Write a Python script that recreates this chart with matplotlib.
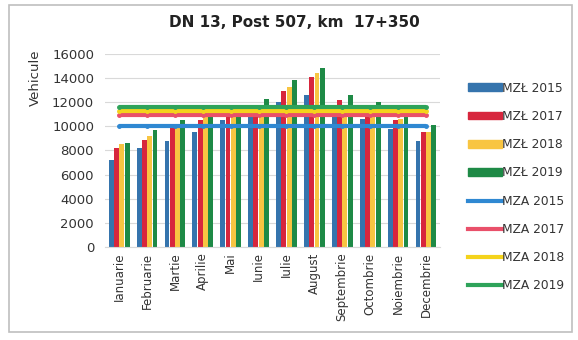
import numpy as np
import matplotlib
matplotlib.use('Agg')
import matplotlib.pyplot as plt
from matplotlib.patches import Rectangle
from matplotlib.lines import Line2D
from matplotlib.patches import Patch

luni = ['Ianuarie', 'Februarie', 'Martie', 'Aprilie', 'Mai', 'Iunie', 'Iulie',
        'August', 'Septembrie', 'Octombrie', 'Noiembrie', 'Decembrie']

# trafic lunar (MZL) pe ani
mzl_2015 = [7200, 8200, 8800, 9500, 10500, 10750, 12000, 12600, 11500, 10600, 9800, 8800]
mzl_2017 = [8200, 8900, 10000, 10500, 10950, 11500, 12900, 14100, 12200, 10950, 10500, 9500]
mzl_2018 = [8500, 9200, 10000, 10800, 11400, 11700, 13300, 14450, 11700, 11000, 10600, 9500]
mzl_2019 = [8600, 9700, 10500, 10750, 11650, 12250, 13850, 14850, 12600, 12000, 10800, 10100]

# media zilnica anuala (MZA)
mza_2015 = 10050
mza_2017 = 10950
mza_2018 = 11280
mza_2019 = 11620

bar_colors = ['#3574ad', '#d7263d', '#f8c542', '#1e8a46']
line_colors = ['#2f88d2', '#e9506a', '#f4d31c', '#2ea35a']

fig = plt.figure(figsize=(5.78, 3.40), dpi=100)
ax = fig.add_axes([0.182, 0.274, 0.579, 0.567])

x = np.arange(len(luni))
w = 0.19
serii = [mzl_2015, mzl_2017, mzl_2018, mzl_2019]
for i, (vals, c) in enumerate(zip(serii, bar_colors)):
    ax.bar(x + (i - 1.5) * w, vals, width=w * 0.92, color=c, zorder=2)

medii = [mza_2015, mza_2017, mza_2018, mza_2019]
for m, c in zip(medii, line_colors):
    ax.plot(x, [m] * len(luni), color=c, lw=3, marker='o', markersize=2.5,
            zorder=3, solid_capstyle='butt')

ax.set_xlim(-0.5, 11.5)
ax.set_ylim(0, 16000)
ax.set_yticks(range(0, 16001, 2000))
ax.set_xticks(x)
ax.set_xticklabels(luni, rotation=90, fontsize=8.5, color='#333333')
ax.tick_params(axis='y', labelsize=9.5, colors='#333333', length=0, pad=8)
ax.tick_params(axis='x', length=0, pad=4)
ax.grid(axis='y', color='#d9d9d9', lw=0.8, zorder=0)
for s in ['top', 'right', 'left']:
    ax.spines[s].set_visible(False)
ax.spines['bottom'].set_color('#d9d9d9')

fig.text(0.062, 0.77, 'Vehicule', rotation=90, ha='center', va='center',
         fontsize=9.5, color='#333333')
fig.text(0.51, 0.935, 'DN 13, Post 507, km  17+350', ha='center', va='center',
         fontsize=11, fontweight='bold', color='#222222')

handles = [Patch(color=c) for c in bar_colors] + \
          [Line2D([0], [0], color=c, lw=3) for c in line_colors]
labels = ['MZŁ 2015', 'MZŁ 2017', 'MZŁ 2018', 'MZŁ 2019',
          'MZA 2015', 'MZA 2017', 'MZA 2018', 'MZA 2019']
leg = fig.legend(handles, labels, loc='center left', bbox_to_anchor=(0.79, 0.45),
                 frameon=False, fontsize=8.8, labelspacing=1.25, handlelength=2.8,
                 handleheight=0.6, handletextpad=0.05)
for t in leg.get_texts():
    t.set_color('#333333')

# chenar exterior
fig.patches.append(Rectangle((0.015, 0.025), 0.975, 0.96, transform=fig.transFigure,
                             fill=False, edgecolor='#bfbfbf', lw=1.2))

fig.savefig('out.png', dpi=100)
